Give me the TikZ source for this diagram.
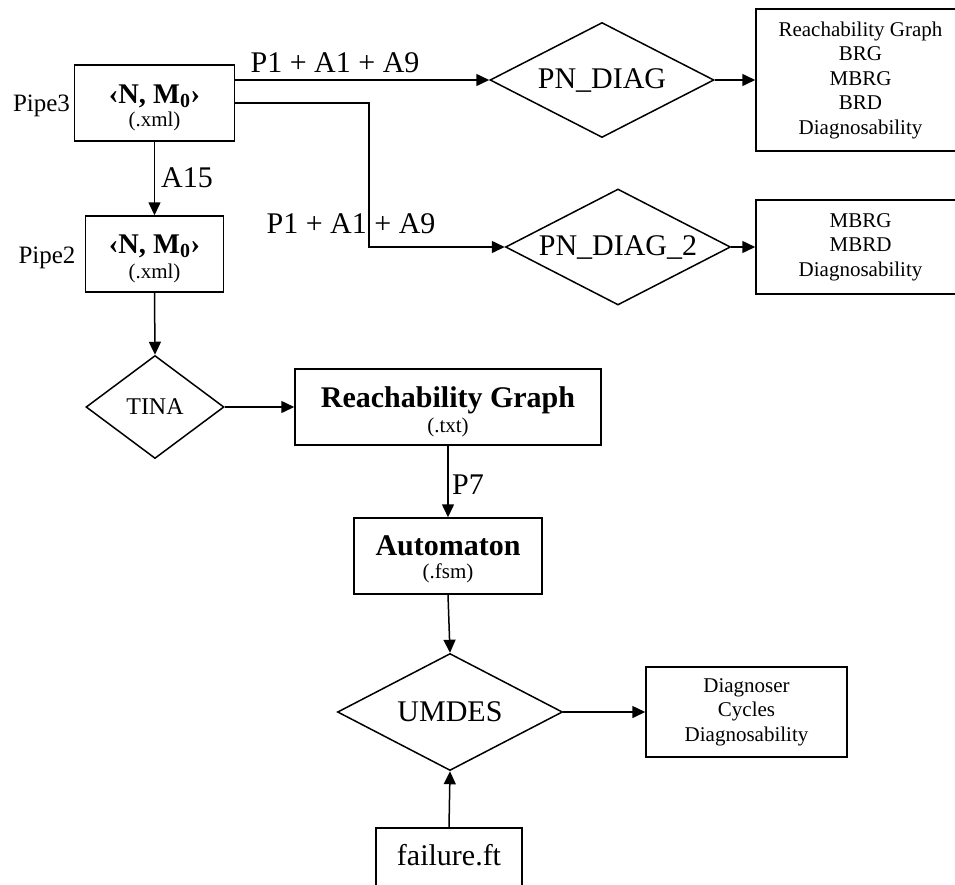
\documentclass[tikz,border=0pt]{standalone}
\usepackage{fontspec}
\setmainfont{Liberation Serif}
\usetikzlibrary{shapes.geometric,arrows.meta}
\begin{document}
\begin{tikzpicture}[x=1pt,y=-1pt,line width=1.5pt,
  box/.style={draw,rectangle,inner sep=0pt},
  dia/.style={draw,diamond,inner sep=0pt,aspect=2},
  arr/.style={-{Triangle[length=13pt,width=12pt]}},
  big/.style={font=\fontsize{30}{30}\selectfont},
  bigb/.style={font=\fontsize{30}{30}\selectfont\bfseries},
  mid/.style={font=\fontsize{25}{25}\selectfont},
  midb/.style={font=\fontsize{28.5}{28.5}\selectfont\bfseries},
  small/.style={font=\fontsize{21}{21}\selectfont},
  list/.style={box,align=center,font=\fontsize{21}{24.5}\selectfont}]
\useasboundingbox (0,0) rectangle (955,884);
\clip (0,0) rectangle (955,884);

% Pipe3
\node[box,minimum width=160pt,minimum height=76pt] (p3) at (154.5,103) {};
\node[anchor=base,midb] (p3a) at (154.5,103) {‹N, M\textsubscript{0}›};
\node[anchor=base,small] (p3b) at (154.5,126) {(.xml)};
\node[anchor=base,mid] (lp3) at (41.5,111) {Pipe3};

% Pipe2
\node[box,minimum width=138pt,minimum height=76pt] (p2) at (154.5,254) {};
\node[anchor=base,midb] (p2a) at (154.5,253) {‹N, M\textsubscript{0}›};
\node[anchor=base,small] (p2b) at (154.5,278) {(.xml)};
\node[anchor=base,mid] (lp2) at (47,263) {Pipe2};

% diamonds
\node[dia,big,minimum width=224pt,minimum height=115pt] (pnd) at (602,80) {PN\_DIAG};
\node[dia,big,minimum width=225pt,minimum height=116pt] (pnd2) at (618,247) {PN\_DIAG\_2};
\node[dia,font=\fontsize{24}{24}\selectfont,minimum width=138pt,minimum height=103pt] (tina) at (155,407) {TINA};
\node[dia,big,minimum width=225pt,minimum height=117pt] (um) at (450,712) {UMDES};

% result boxes
\node[list,minimum width=209pt,minimum height=142pt] (b1) at (860.5,80)
  {Reachability Graph\\BRG\\MBRG\\BRD\\Diagnosability};
\node[list,minimum width=209pt,minimum height=94pt] (b2) at (860.5,247)
  {MBRG\\MBRD\\Diagnosability};
\node[list,minimum width=201pt,minimum height=90pt] (dg) at (746.5,712)
  {Diagnoser\\Cycles\\Diagnosability};

% Reachability graph
\node[box,minimum width=306pt,minimum height=76pt] (rg) at (448,407) {};
\node[anchor=base,bigb] (rga) at (448,407) {Reachability Graph};
\node[anchor=base,small] (rgb) at (448,432) {(.txt)};

% Automaton
\node[box,minimum width=188pt,minimum height=76pt] (aut) at (448,556) {};
\node[anchor=base,bigb] (auta) at (448,555) {Automaton};
\node[anchor=base,small] (autb) at (448,578) {(.fsm)};

% failure.ft
\node[box,big,text depth=10pt,minimum width=146pt,minimum height=64pt] (ff) at (449,860) {failure.ft};

% connector labels
\node[anchor=base,big] (l1) at (335,72) {P1 + A1 + A9};
\node[anchor=base,big] (l2) at (351,233) {P1 + A1 + A9};
\node[anchor=base,big] (la15) at (187,187) {A15};
\node[anchor=base,big] (lp7) at (468,494) {P7};

% connectors
\coordinate (kink) at (369,103);
\draw[arr] (p3.east |- pnd.west) -- (pnd.west);
\draw[arr] (p3.east) -- (kink) |- (pnd2.west);
\draw[arr] (p3.south) -- (p2.north);
\draw[arr] (p2.south) -- (tina.north);
\draw[arr] (tina.east) -- (rg.west);
\draw[arr] (rg.south) -- (aut.north);
\draw[arr] (aut.south) -- (um.north);
\draw[arr] (um.east) -- (dg.west);
\draw[arr] (ff.north) -- (um.south);
\draw[arr] (pnd.east) -- (b1.west);
\draw[arr] (pnd2.east) -- (b2.west);
\end{tikzpicture}
\end{document}
